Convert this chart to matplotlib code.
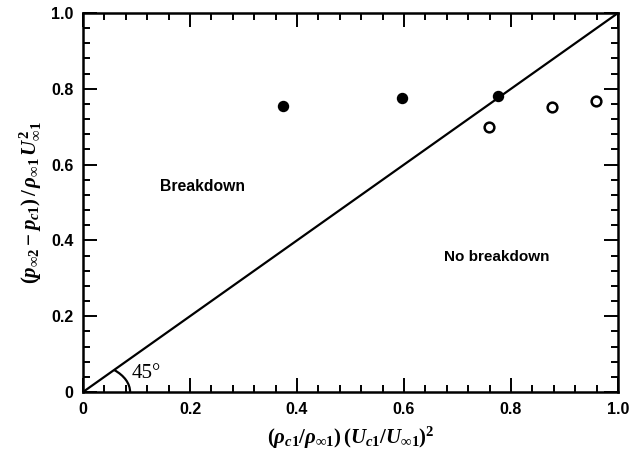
import matplotlib
matplotlib.use("Agg")
import matplotlib.pyplot as plt
import matplotlib.patches as patches
from matplotlib.ticker import MultipleLocator, FixedLocator

plt.rcParams['mathtext.fontset'] = 'custom'
plt.rcParams['mathtext.rm'] = 'Liberation Serif:bold'
plt.rcParams['mathtext.it'] = 'Liberation Serif:italic:bold'
plt.rcParams['mathtext.bf'] = 'Liberation Serif:bold'

# breakdown cases (filled) and no-breakdown cases (open)
x_break = [0.374, 0.596, 0.776]
y_break = [0.755, 0.775, 0.782]
x_nobreak = [0.758, 0.877, 0.958]
y_nobreak = [0.700, 0.753, 0.768]

ticks = [0, 0.2, 0.4, 0.6, 0.8, 1.0]
tick_labels = ['0', '0.2', '0.4', '0.6', '0.8', '1.0']

fig = plt.figure(figsize=(6.44, 4.62), dpi=100)
ax = fig.add_axes([83 / 644, 70 / 462, 535 / 644, 379 / 462])

# boundary line, 45 degrees in data units
ax.plot([0, 1], [0, 1], color='black', lw=1.6, zorder=2)

ax.plot(x_break, y_break, 'o', ms=7.2, mfc='black', mec='black', zorder=3)
ax.plot(x_nobreak, y_nobreak, 'o', ms=7, mfc='white', mec='black', mew=1.8, zorder=3)

# angle arc at the origin
arc = patches.Arc((0, 0), 0.176, 0.155, theta1=0, theta2=45,
                  color='black', lw=1.6)
ax.add_patch(arc)
ax.text(0.090, 0.05, '45°', fontsize=15, family='Liberation Serif',
        va='center', ha='left')

ax.text(0.144, 0.543, 'Breakdown', fontsize=11.3, fontweight='bold',
        family='Liberation Sans', va='center', ha='left')
ax.text(0.675, 0.356, 'No breakdown', fontsize=11, fontweight='bold',
        family='Liberation Sans', va='center', ha='left')

ax.set_xlim(0, 1)
ax.set_ylim(0, 1)
ax.xaxis.set_major_locator(FixedLocator(ticks))
ax.yaxis.set_major_locator(FixedLocator(ticks))
ax.set_xticklabels(tick_labels)
ax.set_yticklabels(tick_labels)
ax.xaxis.set_minor_locator(MultipleLocator(0.04))
ax.yaxis.set_minor_locator(MultipleLocator(0.04))
ax.tick_params(which='both', direction='in', top=True, right=True, width=1.4)
ax.tick_params(which='major', length=10, pad=7, labelsize=11.5)
ax.tick_params(which='minor', length=5)
for lab in ax.get_xticklabels() + ax.get_yticklabels():
    lab.set_fontweight('bold')
    lab.set_family('Liberation Sans')
for s in ax.spines.values():
    s.set_linewidth(1.8)

ax.set_xlabel(r'$(\rho_{c1}/\rho_{\infty1})\,(U_{c1}/U_{\infty1})^2$', fontsize=15, labelpad=6)
ax.set_ylabel(r'$(p_{\infty2} - p_{c1})\,/\,\rho_{\infty1}\,U_{\infty1}^2$', fontsize=15, labelpad=5)

fig.savefig('out.png', dpi=100)
